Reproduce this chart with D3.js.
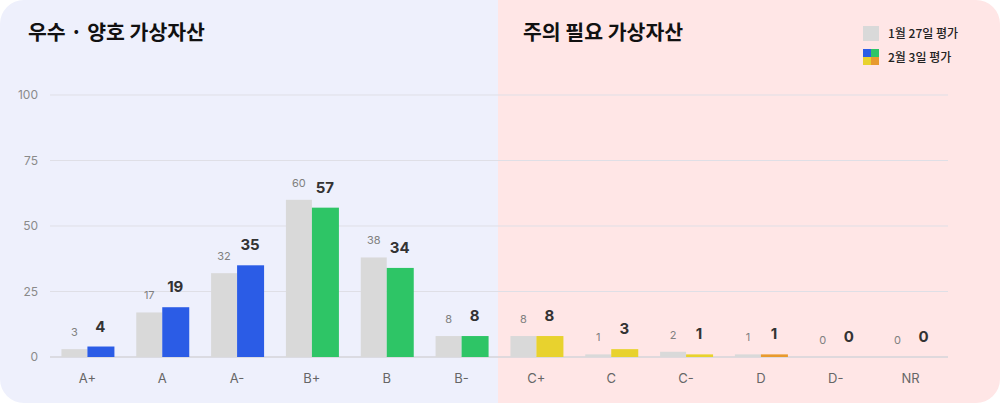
<!DOCTYPE html>
<html>
<head>
<meta charset="utf-8">
<script src="https://cdn.jsdelivr.net/npm/d3@7"></script>
<style>
  html, body { margin: 0; padding: 0; background: #ffffff; }
  svg { display: block; font-family: "Inter", "Noto Sans CJK KR", "Noto Sans", sans-serif; }
  .axis-label { fill: #8a8a8a; font-size: 12px; }
  .x-label { fill: #666666; font-size: 13px; }
  .prev-label { fill: #808080; font-size: 11px; }
  .curr-label { fill: #333333; font-size: 15px; font-weight: 700; }
  .title { fill: #111111; font-size: 20.5px; font-weight: 700; font-family: "Noto Sans CJK KR", sans-serif; }
  .legend-text { fill: #222222; font-size: 12px; font-weight: 500; font-family: "Noto Sans CJK KR", sans-serif; }
</style>
</head>
<body>
<svg id="chart"></svg>
<script>
const grades = ['A+', 'A', 'A-', 'B+', 'B', 'B-', 'C+', 'C', 'C-', 'D', 'D-', 'NR'];
const prevValues = [3, 17, 32, 60, 38, 8, 8, 1, 2, 1, 0, 0];
const currValues = [4, 19, 35, 57, 34, 8, 8, 3, 1, 1, 0, 0];
const currColors = ['#2B5CE6', '#2B5CE6', '#2B5CE6', '#2EC566', '#2EC566', '#2EC566',
                    '#E8D22E', '#E8D22E', '#E8D22E', '#E89A2E', '#E89A2E', '#E89A2E'];
const yTicks = [0, 25, 50, 75, 100];
const panelTitles = ['우수 · 양호 가상자산', '주의 필요 가상자산'];
const legendLabels = ['1월 27일 평가', '2월 3일 평가'];
const legendQuads = ['#2B5CE6', '#2EC566', '#E8D22E', '#E89A2E'];

const width = 1000, height = 403;
const margin = {top: 95, right: 52, bottom: 46, left: 50};
const innerW = width - margin.left - margin.right;
const innerH = height - margin.top - margin.bottom;

const svg = d3.select('#chart').attr('width', width).attr('height', height);

// background panels inside a rounded card
const clip = svg.append('defs').append('clipPath').attr('id', 'card');
clip.append('rect').attr('width', width).attr('height', height).attr('rx', 24);
const bg = svg.append('g').attr('clip-path', 'url(#card)');
bg.append('rect').attr('x', 0).attr('y', 0).attr('width', 498).attr('height', height).attr('fill', '#EEF0FC');
bg.append('rect').attr('x', 498).attr('y', 0).attr('width', width - 498).attr('height', height).attr('fill', '#FFE6E6');

// titles
svg.selectAll('.title').data(panelTitles).join('text')
  .attr('class', 'title')
  .attr('x', (d, i) => i === 0 ? 28 : 523)
  .attr('y', 40)
  .text(d => d);

const chart = svg.append('g').attr('transform', `translate(${margin.left},${margin.top})`);

const x = d3.scaleBand().domain(grades).range([0, innerW]).padding(0);
const y = d3.scaleLinear().domain([0, 100]).range([innerH, 0]);
const barW = 26;

// grid lines
chart.selectAll('.grid').data(yTicks).join('line')
  .attr('class', 'grid')
  .attr('x1', 0).attr('x2', innerW)
  .attr('y1', d => y(d)).attr('y2', d => y(d))
  .attr('stroke', d => d === 0 ? '#D4D4DA' : '#DFDFE6')
  .attr('stroke-width', d => d === 0 ? 1.5 : 1);

// y labels
chart.selectAll('.axis-label').data(yTicks).join('text')
  .attr('class', 'axis-label')
  .attr('x', -12)
  .attr('y', d => y(d))
  .attr('dy', '0.35em')
  .attr('text-anchor', 'end')
  .text(d => d);

// x labels
chart.selectAll('.x-label').data(grades).join('text')
  .attr('class', 'x-label')
  .attr('x', d => x(d) + x.bandwidth() / 2)
  .attr('y', innerH + 26)
  .attr('text-anchor', 'middle')
  .text(d => d);

const rows = grades.map((g, i) => ({grade: g, prev: prevValues[i], curr: currValues[i], color: currColors[i]}));

// previous (grey) bars
chart.selectAll('.prev-bar').data(rows).join('rect')
  .attr('class', 'prev-bar')
  .attr('x', d => x(d.grade) + x.bandwidth() / 2 - barW)
  .attr('y', d => y(d.prev))
  .attr('width', barW)
  .attr('height', d => innerH - y(d.prev))
  .attr('fill', '#D9D9D9');

// current (coloured) bars
chart.selectAll('.curr-bar').data(rows).join('rect')
  .attr('class', 'curr-bar')
  .attr('x', d => x(d.grade) + x.bandwidth() / 2)
  .attr('y', d => y(d.curr))
  .attr('width', barW + 1)
  .attr('height', d => innerH - y(d.curr))
  .attr('fill', d => d.color);

chart.selectAll('.prev-label').data(rows).join('text')
  .attr('class', 'prev-label')
  .attr('x', d => x(d.grade) + x.bandwidth() / 2 - barW / 2)
  .attr('y', d => y(d.prev) - 13)
  .attr('text-anchor', 'middle')
  .text(d => d.prev);

chart.selectAll('.curr-label').data(rows).join('text')
  .attr('class', 'curr-label')
  .attr('x', d => x(d.grade) + x.bandwidth() / 2 + barW / 2)
  .attr('y', d => y(d.curr) - 15)
  .attr('text-anchor', 'middle')
  .text(d => d.curr);

// legend
const legend = svg.append('g').attr('transform', 'translate(863, 26)');
legend.append('rect').attr('width', 16).attr('height', 15).attr('fill', '#D9D9D9');
const quad = legend.append('g').attr('transform', 'translate(0, 23)');
quad.selectAll('rect').data(legendQuads).join('rect')
  .attr('x', (d, i) => (i % 2) * 8)
  .attr('y', (d, i) => Math.floor(i / 2) * 8)
  .attr('width', 8).attr('height', 8)
  .attr('fill', d => d);
legend.selectAll('.legend-text').data(legendLabels).join('text')
  .attr('class', 'legend-text')
  .attr('x', 25)
  .attr('y', (d, i) => 8 + i * 24)
  .attr('dy', '0.35em')
  .text(d => d);
</script>
</body>
</html>
